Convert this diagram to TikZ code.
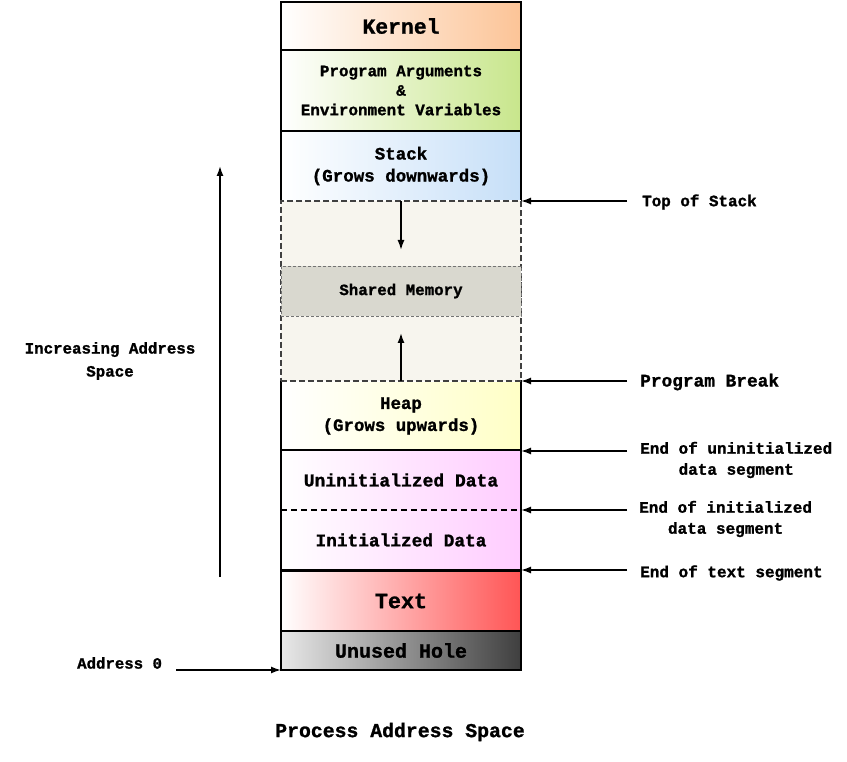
\documentclass[tikz,border=0pt]{standalone}
\usepackage{fontspec}
\setmainfont{Liberation Mono}[BoldFeatures={FakeBold=1.2}]
\usetikzlibrary{positioning,arrows.meta}
\definecolor{kernelc}{HTML}{FCC497}
\definecolor{argsc}{HTML}{C8E68C}
\definecolor{stackc}{HTML}{C6DFF8}
\definecolor{freec}{HTML}{F7F5EE}
\definecolor{shmc}{HTML}{D9D8CF}
\definecolor{heapc}{HTML}{FFFFC6}
\definecolor{datac}{HTML}{FFCCFF}
\definecolor{textc}{HTML}{FF5555}
\definecolor{holel}{HTML}{E8E8E8}
\definecolor{holer}{HTML}{3F3F3F}
\newcommand{\fsz}[2]{\fontsize{#1}{#2}\selectfont}

\begin{document}
\begin{tikzpicture}[x=1pt,y=-1pt,
  seg/.style={draw, line width=1.7pt, minimum width=240pt, inner sep=0pt, outer sep=0pt, align=center, left color=white},
  gapbox/.style={draw=black!75, line width=1.4pt, dash pattern=on 6pt off 3pt, fill=freec, minimum width=240pt, minimum height=180pt, outer sep=0pt},
  shmbox/.style={draw=black!55, line width=0.9pt, dash pattern=on 3pt off 2pt, fill=shmc, minimum width=240pt, minimum height=50pt, inner sep=0pt},
  ptr/.style={-{Latex[length=10pt,width=7pt]}, line width=1.6pt},
  lbl/.style={anchor=west, inner sep=0pt, align=center}]
  \useasboundingbox (0,0) rectangle (847,762);

  % segments, top (high addresses) to bottom
  \node[seg, right color=kernelc, minimum height=48pt, font=\bfseries\fsz{21.4}{26}] (kernel) at (401,26) {Kernel};
  \node[seg, right color=argsc, minimum height=81pt, font=\bfseries\fsz{15.9}{19.5}] (args) at (401,90.5) {Program Arguments\\\&\\Environment Variables};
  \node[seg, right color=stackc, minimum height=70pt, font=\bfseries\fsz{17.5}{22}] (stack) at (401,166) {Stack\\(Grows downwards)};
  \node[seg, right color=heapc, minimum height=70pt, font=\bfseries\fsz{17.4}{22}] (heap) at (401,416) {Heap\\(Grows upwards)};
  % free region between stack and heap
  \draw[white, line width=2.4pt] (stack.south west) -- (stack.south east);
  \draw[white, line width=2.4pt] (heap.north west) -- (heap.north east);
  \node[gapbox] (free) at (401,291) {};
  \node[shmbox, font=\bfseries\fsz{15.8}{19}] (shm) at (401,291) {Shared Memory};
  \coordinate (stacktip) at (401,250);
  \coordinate (heaptip) at (401,333);
  \draw[ptr] (stack.south) -- (stacktip);
  \draw[ptr] (heap.north) -- (heaptip);
  % data segments
  \node[seg, draw=none, right color=datac, minimum height=60pt, font=\bfseries\fsz{18}{22}] (bss) at (401,480) {Uninitialized Data};
  \node[seg, draw=none, right color=datac, minimum height=60pt, font=\bfseries\fsz{17.8}{22}] (data) at (401,540) {Initialized Data};
  \draw[line width=1.7pt] (bss.north west) rectangle (data.south east);
  \draw[line width=1.5pt, dash pattern=on 6pt off 4pt] (bss.south west) -- (bss.south east);
  \node[seg, right color=textc, minimum height=60pt, font=\bfseries\fsz{21.7}{26}] (text) at (401,601) {Text};
  \node[seg, left color=holel, right color=holer, minimum height=39pt, font=\bfseries\fsz{20}{24}] (hole) at (401,650.5) {Unused Hole};

  % labels on the right
  \node[lbl, font=\bfseries\fsz{15.9}{19}] (tos) at (642,202) {Top of Stack};
  \node[lbl, font=\bfseries\fsz{17.8}{21}] (brk) at (640,382) {Program Break};
  \node[lbl, font=\bfseries\fsz{16}{21}] (endbss) at (640,460) {End of uninitialized\\data segment};
  \node[lbl, font=\bfseries\fsz{16}{21}] (enddata) at (639,519) {End of initialized\\data segment};
  \node[lbl, font=\bfseries\fsz{16}{21}] (endtext) at (640,573) {End of text segment};
  \foreach \n/\y in {tos/201,brk/381,endbss/451,enddata/510,endtext/570}
    \coordinate (\n-from) at (627,\y);
  \draw[ptr] (tos-from) -- (stack.south east);
  \draw[ptr] (brk-from) -- (heap.north east);
  \draw[ptr] (endbss-from) -- (heap.south east);
  \draw[ptr] (enddata-from) -- (bss.south east);
  \draw[ptr] (endtext-from) -- (data.south east);

  % left side
  \node[font=\bfseries\fsz{15.8}{23}, align=center] (incr) at (110,361) {Increasing Address\\Space};
  \coordinate (low) at (220,577);
  \coordinate (high) at (220,166);
  \draw[ptr] (low) -- (high);
  \node[font=\bfseries\fsz{15.7}{19}, anchor=west, inner sep=0pt] (addr0) at (77,663) {Address 0};
  \coordinate (addr0-from) at (176,670);
  \draw[ptr] (addr0-from) -- (hole.south west);

  \node[font=\bfseries\fsz{19.8}{24}] (title) at (400,732) {Process Address Space};
\end{tikzpicture}
\end{document}
